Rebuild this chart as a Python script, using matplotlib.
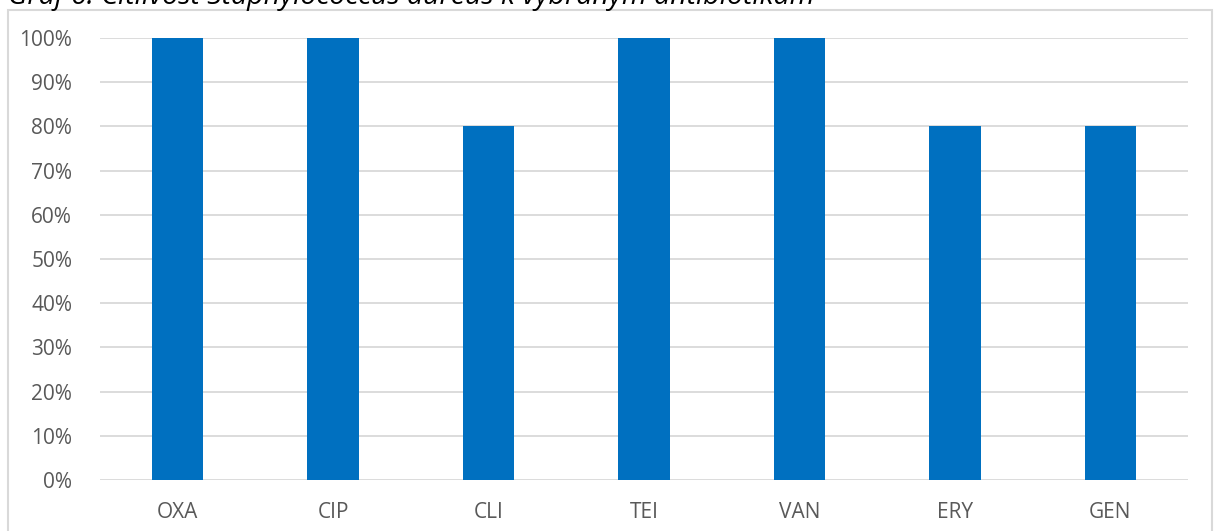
import matplotlib
matplotlib.use('Agg')
from matplotlib import pyplot as plt
from matplotlib.patches import Rectangle
from matplotlib.ticker import PercentFormatter

categories = ['OXA', 'CIP', 'CLI', 'TEI', 'VAN', 'ERY', 'GEN']
values = [100, 100, 80, 100, 100, 80, 80]
title = 'Graf 6: Citlivosť Staphylococcus aureus k vybraným antibiotikám'

W, H = 1214, 531
plt.rcParams['font.family'] = ['Open Sans', 'DejaVu Sans']

fig = plt.figure(figsize=(W / 100, H / 100), dpi=100)
ax = fig.add_axes([100 / W, 1 - 480 / H, (1188 - 100) / W, (480 - 38) / H])

# outer chart border
fig.patches.append(Rectangle((8 / W, -0.01), (1212 - 8) / W, 1 - 10 / H + 0.01,
                             transform=fig.transFigure, fill=False,
                             edgecolor='#d9d9d9', linewidth=1.5))
fig.text(8 / W, 1 - 4 / H, title, ha='left', va='baseline', fontsize=20.5,
         style='italic', color='black')

x = range(len(categories))
ax.bar(x, values, width=0.33, color='#0070c0', zorder=3)
ax.set_xlim(-0.5, len(categories) - 0.5)
ax.set_ylim(0, 100)
ax.set_yticks(range(0, 101, 10))
ax.yaxis.set_major_formatter(PercentFormatter(decimals=0))
ax.set_xticks(list(x))
ax.set_xticklabels(categories)
ax.grid(axis='y', color='#d9d9d9', linewidth=1.3, zorder=0)
for s in ax.spines.values():
    s.set_visible(False)
ax.tick_params(length=0, colors='#595959', labelsize=15)
ax.tick_params(axis='y', pad=20)
ax.tick_params(axis='x', pad=16)

fig.savefig('out.png', dpi=100)
